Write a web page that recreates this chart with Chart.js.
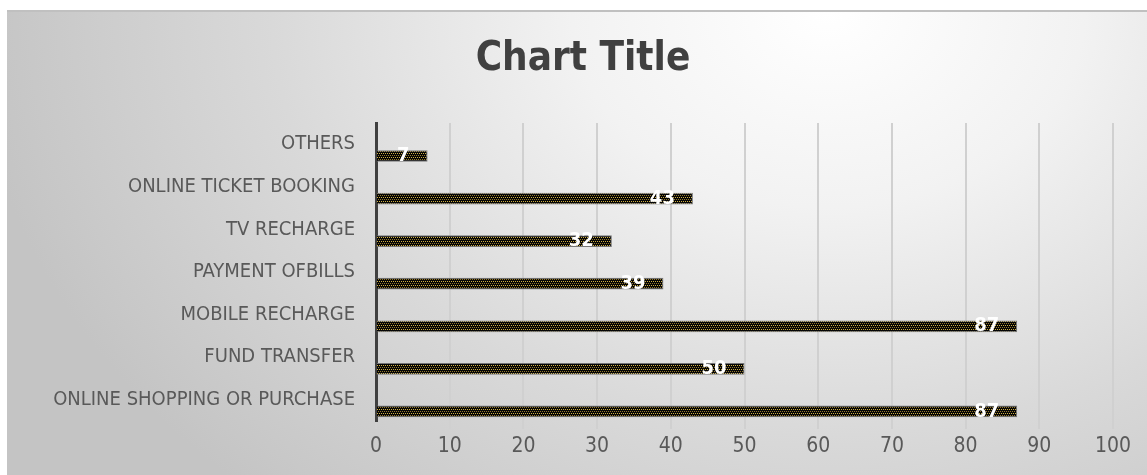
<!DOCTYPE html>
<html>
<head>
<meta charset="utf-8">
<script src="https://cdn.jsdelivr.net/npm/chart.js@4/dist/chart.umd.min.js"></script>
<style>
  html, body { margin: 0; padding: 0; background: #fff; }
  #wrap {
    position: absolute; left: 7px; top: 10px; width: 1140px; height: 465px;
    border-top: 2px solid #c0c0c0;
    background: radial-gradient(ellipse 75% 140% at 72% 0%, #ffffff 0%, #f2f2f2 30%, #d9d9d9 65%, #c4c4c4 100%);
  }
</style>
</head>
<body>
<div id="wrap"><canvas id="myChart" width="1140" height="463"></canvas></div>
<script>
const categories = ['OTHERS', 'ONLINE TICKET BOOKING', 'TV RECHARGE', 'PAYMENT OFBILLS',
  'MOBILE RECHARGE', 'FUND TRANSFER', 'ONLINE SHOPPING OR PURCHASE'];
const values = [7, 43, 32, 39, 87, 50, 87];
const xTicks = [0, 10, 20, 30, 40, 50, 60, 70, 80, 90, 100];

const narrow = "'Liberation Sans Narrow', 'Arial Narrow', 'DejaVu Sans Condensed', sans-serif";

// black bars with little gold dots, like the excel pattern fill
function dotPattern() {
  const c = document.createElement('canvas');
  c.width = 4; c.height = 4;
  const g = c.getContext('2d');
  g.fillStyle = '#050505';
  g.fillRect(0, 0, 4, 4);
  g.fillStyle = '#d1b040';
  g.fillRect(0, 1, 1, 1);
  g.fillRect(2, 1, 1, 1);
  g.fillStyle = '#94792a';
  g.fillRect(1, 3, 1, 1);
  g.fillRect(3, 3, 1, 1);
  return g.createPattern(c, 'repeat');
}

const titlePlugin = {
  id: 'bigTitle',
  afterDraw(chart) {
    const ctx = chart.ctx;
    ctx.save();
    ctx.font = 'bold 40px ' + narrow;
    ctx.fillStyle = '#404040';
    ctx.textAlign = 'center';
    ctx.textBaseline = 'middle';
    ctx.fillText('Chart Title', 576, 48);
    ctx.restore();
  }
};

const valueLabels = {
  id: 'valueLabels',
  afterDatasetsDraw(chart) {
    const ctx = chart.ctx;
    const meta = chart.getDatasetMeta(1);
    ctx.save();
    ctx.font = 'bold 20px ' + narrow;
    ctx.fillStyle = '#ffffff';
    ctx.textAlign = 'right';
    ctx.textBaseline = 'middle';
    meta.data.forEach((bar, i) => {
      ctx.fillText(String(values[i]), bar.x - 18, bar.y);
    });
    ctx.restore();
  }
};

let ctx = document.getElementById('myChart');
let myChart = new Chart(ctx, {
  type: 'bar',
  data: {
    labels: categories,
    datasets: [{
      label: 'spacer',
      data: categories.map(() => null),
      backgroundColor: 'transparent'
    }, {
      label: 'Series1',
      data: values,
      backgroundColor: dotPattern(),
      borderColor: '#777777',
      borderWidth: 1
    }]
  },
  options: {
    indexAxis: 'y',
    responsive: false,
    animation: false,
    layout: { padding: { top: 111, right: 34, left: 0, bottom: 0 } },
    plugins: {
      legend: { display: false },
      title: { display: false },
      tooltip: { enabled: false }
    },
    datasets: { bar: { categoryPercentage: 1.1, barPercentage: 0.5 } },
    scales: {
      x: {
        min: 0, max: 100,
        afterBuildTicks(axis) { axis.ticks = xTicks.map(v => ({ value: v })); },
        afterFit(axis) { axis.height = 54; },
        grid: { color: '#d0d0d0', lineWidth: 2, tickLength: 8, drawTicks: true },
        border: { display: false },
        ticks: { color: '#595959', font: { family: narrow, size: 21 }, padding: 5 }
      },
      y: {
        afterFit(axis) { axis.width = 369; },
        grid: { display: false },
        border: { display: true, color: '#404040', width: 3 },
        ticks: { color: '#595959', font: { family: narrow, size: 20 }, padding: 13 }
      }
    }
  },
  plugins: [titlePlugin, valueLabels]
});
</script>
</body>
</html>
